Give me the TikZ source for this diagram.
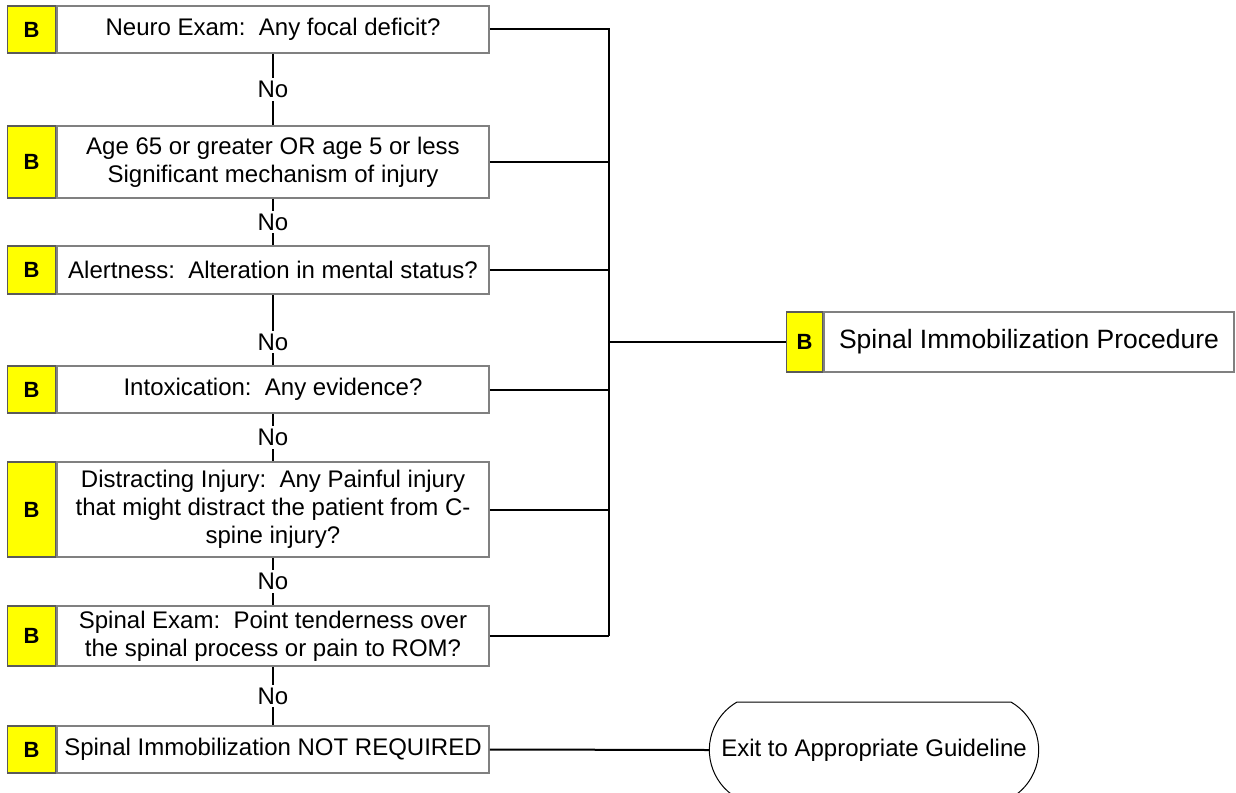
\documentclass[tikz,border=0pt]{standalone}
\usepackage{fontspec}
\setmainfont{Liberation Sans}
\usetikzlibrary{shapes.misc}

\definecolor{boxgray}{RGB}{128,128,128}
\definecolor{cellyellow}{RGB}{255,255,0}

\tikzset{
  stepbox/.style={draw=boxgray, line width=1.5pt, fill=white, align=center,
    inner sep=0pt, minimum width=432pt,
    font=\fontsize{24pt}{28pt}\selectfont},
  bcell/.style={draw=boxgray!70!black, line width=1.5pt, fill=cellyellow,
    inner sep=0pt, minimum width=48pt, font=\fontsize{22pt}{26pt}\selectfont\bfseries},
  link/.style={draw=black, line width=2pt},
  nolabel/.style={fill=white, inner sep=3pt, font=\fontsize{24pt}{28pt}\selectfont},
  exitbox/.style={rounded rectangle, rounded rectangle arc length=120, draw=black,
    line width=1pt, fill=white, minimum width=336pt, minimum height=96pt,
    font=\fontsize{24pt}{28pt}\selectfont}
}

\begin{document}
\begin{tikzpicture}[x=1pt,y=-1pt]
\useasboundingbox[fill=white] (0,0) rectangle (1236,792);

% left column of checks
\node[stepbox, minimum height=47pt] (s1) at (273,29.5) {Neuro Exam:\ \ Any focal deficit?};
\node[bcell, minimum height=47pt, anchor=east] (b1) at (s1.west) {B};
\node[stepbox, minimum height=72pt] (s2) at (273,162) {Age 65 or greater OR age 5 or less\\Significant mechanism of injury};
\node[bcell, minimum height=72pt, anchor=east] (b2) at (s2.west) {B};
\node[stepbox, minimum height=48pt] (s3) at (273,270) {Alertness:\ \ Alteration in mental status?};
\node[bcell, minimum height=48pt, anchor=east] (b3) at (s3.west) {B};
\node[stepbox, minimum height=47pt] (s4) at (273,389.5) {Intoxication:\ \ Any evidence?};
\node[bcell, minimum height=47pt, anchor=east] (b4) at (s4.west) {B};
\node[stepbox, minimum height=95pt] (s5) at (273,509.5) {Distracting Injury:\ \ Any Painful injury\\that might distract the patient from C-\\spine injury?};
\node[bcell, minimum height=95pt, anchor=east] (b5) at (s5.west) {B};
\node[stepbox, minimum height=60pt] (s6) at (273,636) {Spinal Exam:\ \ Point tenderness over\\the spinal process or pain to ROM?};
\node[bcell, minimum height=60pt, anchor=east] (b6) at (s6.west) {B};
\node[stepbox, minimum height=47pt] (s7) at (273,749.5) {Spinal Immobilization NOT REQUIRED};
\node[bcell, minimum height=47pt, anchor=east] (b7) at (s7.west) {B};

% right side
\node[stepbox, minimum width=410pt, minimum height=60pt,
  font=\fontsize{26.5pt}{30pt}\selectfont] (proc) at (1029,342) {Spinal Immobilization Procedure};
\node[bcell, minimum width=36pt, minimum height=60pt, anchor=east] (bp) at (proc.west) {B};
\node[exitbox] (exit) at (874,750) {Exit to Appropriate Guideline};

% "No" path down the column
\draw[link] (s1.south) -- node[nolabel] {No} (s2.north);
\draw[link] (s2.south) -- node[nolabel] {No} (s3.north);
\draw[link] (s3.south) -- node[nolabel, pos=0.67] {No} (s4.north);
\draw[link] (s4.south) -- node[nolabel] {No} (s5.north);
\draw[link] (s5.south) -- node[nolabel] {No} (s6.north);
\draw[link] (s6.south) -- node[nolabel] {No} (s7.north);

% yes branches join the trunk
\coordinate (trunk) at (609,0);
\draw[link] (s1.east) -- (s1.east -| trunk) -- (s6.east -| trunk);
\draw[link] (s2.east) -- (s2.east -| trunk);
\draw[link] (s3.east) -- (s3.east -| trunk);
\draw[link] (s4.east) -- (s4.east -| trunk);
\draw[link] (s5.east) -- (s5.east -| trunk);
\draw[link] (s6.east) -- (s6.east -| trunk);
\draw[link] (bp.west -| trunk) -- (bp.west);
\draw[link] (s7.east) -- (exit.west);
\end{tikzpicture}
\end{document}
